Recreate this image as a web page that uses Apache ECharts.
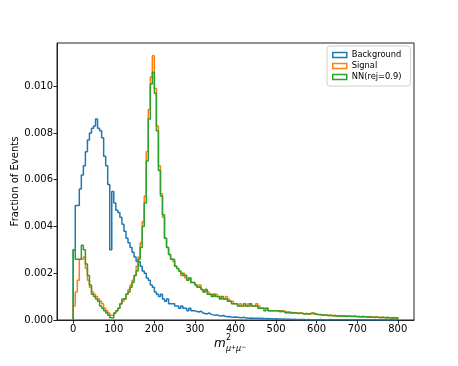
<!DOCTYPE html>
<html>
<head>
<meta charset="UTF-8">
<title>m2 histogram</title>
<script src="https://cdn.jsdelivr.net/npm/echarts@6/dist/echarts.min.js"></script>
<style>
  html, body { margin: 0; padding: 0; background: #fff; }
  #main { width: 458px; height: 366px; }
</style>
</head>
<body>
<div id="main"></div>
<script type="text/javascript">
// histogram bins: 0..800, width 5
var binStart = 0;
var binWidth = 5;
var seriesNames = ['Background', 'Signal', 'NN(rej=0.9)'];
var xTicks = [0, 100, 200, 300, 400, 500, 600, 700, 800];
var yTicks = [0, 0.002, 0.004, 0.006, 0.008, 0.010];

var background = [
    0.0030, 0.0049, 0.0049, 0.0056, 0.0062, 0.0066, 0.0072, 0.0077, 0.0080, 0.0082, 0.0083, 0.0086, 0.0082, 0.0081, 0.0078, 0.0070, 0.0066, 0.0058, 0.0030, 0.0055,
    0.0050, 0.0047, 0.0046, 0.0044, 0.0041, 0.0038, 0.0035, 0.0033, 0.0031, 0.0029, 0.0027, 0.0025, 0.0025, 0.0023, 0.0021, 0.0020, 0.0018, 0.0017, 0.0015, 0.0014,
    0.0012, 0.0011, 0.0010, 0.0011, 0.0009, 0.0008, 0.0009, 0.0007, 0.0007, 0.0007, 0.0006, 0.0006, 0.0005, 0.0006, 0.0005, 0.0005, 0.0004, 0.0005, 0.0004, 0.0004,
    0.00036, 0.00034, 0.00038, 0.00030, 0.00028, 0.00026, 0.00030, 0.00024, 0.00022, 0.00020, 0.00022, 0.00018, 0.00017, 0.00019, 0.00016, 0.00014, 0.00015, 0.00013, 0.00012, 0.00013,
    0.00012, 0.00011, 0.00010, 0.00012, 0.00009, 0.00009, 0.00008, 0.00009, 0.00007, 0.00008, 0.00007, 0.00006, 0.00007, 0.00006, 0.00005, 0.00006, 0.00005, 0.00005, 0.00004, 0.00005,
    0.00004, 0.00004, 0.00003, 0.00004, 0.00003, 0.00003, 0.00003, 0.00002, 0.00003, 0.00002, 0.00002, 0.00002, 0.00002, 0.00002, 0.00001, 0.00002, 0.00001, 0.00001, 0.00001, 0.00001,
    0.00001, 0.00002, 0.00001, 0.00001, 0.00001, 0.00001, 0.00002, 0.00001, 0.00001, 0.00001, 0.00001, 0.00001, 0.00001, 0.00001, 0.00001, 0.00001, 0.00001, 0.00001, 0.00001, 0.00001,
    0.00001, 0.00001, 0.00000, 0.00001, 0.00001, 0.00000, 0.00001, 0.00001, 0.00000, 0.00001, 0.00000, 0.00001, 0.00000, 0.00001, 0.00000, 0.00000, 0.00001, 0.00000, 0.00000, 0.00000
];

var signal = [
    0.0006, 0.0012, 0.0017, 0.0026, 0.0026, 0.0027, 0.0022, 0.0017, 0.0014, 0.0012, 0.0011, 0.0010, 0.0009, 0.0008, 0.0007, 0.0005, 0.0004, 0.0003, 0.0002, 0.0002,
    0.0003, 0.0004, 0.0005, 0.0007, 0.0008, 0.0009, 0.0011, 0.0013, 0.0015, 0.0017, 0.0019, 0.0023, 0.0027, 0.0033, 0.0042, 0.0053, 0.0072, 0.0090, 0.0104, 0.0113,
    0.0099, 0.0083, 0.0066, 0.0054, 0.0044, 0.0035, 0.0031, 0.0028, 0.0026, 0.0025, 0.0023, 0.0022, 0.0021, 0.0019, 0.0020, 0.0018, 0.0017, 0.0018, 0.0016, 0.0016,
    0.0015, 0.0014, 0.0015, 0.0013, 0.0012, 0.0013, 0.0012, 0.0011, 0.0011, 0.0010, 0.0011, 0.0010, 0.0010, 0.0009, 0.0009, 0.0010, 0.0009, 0.0008, 0.0008, 0.0007,
    0.0007, 0.0006, 0.0007, 0.0006, 0.0006, 0.0006, 0.0007, 0.0006, 0.0006, 0.0006, 0.0007, 0.0006, 0.0005, 0.0005, 0.0005, 0.0005, 0.0004, 0.0004, 0.0004, 0.0004,
    0.0004, 0.0004, 0.00035, 0.0004, 0.00035, 0.0003, 0.00035, 0.0003, 0.0003, 0.0003, 0.0003, 0.00028, 0.0003, 0.00025, 0.00028, 0.00025, 0.00025, 0.00028, 0.0003, 0.00025,
    0.00025, 0.00022, 0.00022, 0.0002, 0.00022, 0.0002, 0.0002, 0.00018, 0.0002, 0.00017, 0.00018, 0.00017, 0.00016, 0.00018, 0.00016, 0.00017, 0.00015, 0.00016, 0.00017, 0.00015,
    0.00015, 0.00014, 0.00016, 0.00014, 0.00013, 0.00015, 0.00013, 0.00012, 0.00014, 0.00012, 0.00011, 0.00013, 0.00011, 0.0001, 0.00012, 0.0001, 0.0001, 0.00011, 0.0001, 0.0001
];

var nnRej = [
    0.0030, 0.0026, 0.0026, 0.0026, 0.0032, 0.0030, 0.0024, 0.0019, 0.0015, 0.0011, 0.0010, 0.0009, 0.0008, 0.0006, 0.0005, 0.0004, 0.0003, 0.0002, 0.0001, 0.0001,
    0.0003, 0.0004, 0.0005, 0.0007, 0.0009, 0.0009, 0.0011, 0.0012, 0.0014, 0.0016, 0.0019, 0.0021, 0.0026, 0.0031, 0.0040, 0.0050, 0.0068, 0.0086, 0.0101, 0.0106,
    0.0097, 0.0081, 0.0064, 0.0053, 0.0045, 0.0035, 0.0031, 0.0028, 0.0026, 0.0026, 0.0023, 0.0022, 0.0021, 0.0020, 0.0019, 0.0019, 0.0017, 0.0018, 0.0016, 0.0016,
    0.0015, 0.0014, 0.0014, 0.0013, 0.0012, 0.0013, 0.0011, 0.0011, 0.0010, 0.0011, 0.0010, 0.0010, 0.0009, 0.0010, 0.0009, 0.0009, 0.0008, 0.0008, 0.0007, 0.0007,
    0.0007, 0.0006, 0.0006, 0.0006, 0.0007, 0.0006, 0.0006, 0.0007, 0.0006, 0.0006, 0.0006, 0.0005, 0.0005, 0.0005, 0.0004, 0.0005, 0.0004, 0.0004, 0.0004, 0.0004,
    0.0004, 0.00035, 0.0004, 0.00035, 0.0003, 0.00035, 0.0003, 0.0003, 0.00032, 0.0003, 0.00028, 0.0003, 0.00028, 0.00025, 0.00028, 0.00025, 0.00028, 0.0003, 0.00025, 0.00025,
    0.00022, 0.00024, 0.0002, 0.00022, 0.0002, 0.00018, 0.0002, 0.00018, 0.00017, 0.00018, 0.00016, 0.00018, 0.00016, 0.00017, 0.00015, 0.00017, 0.00016, 0.00015, 0.00016, 0.00014,
    0.00015, 0.00013, 0.00015, 0.00013, 0.00014, 0.00012, 0.00013, 0.00012, 0.00011, 0.00013, 0.00011, 0.0001, 0.00012, 0.0001, 0.00011, 0.0001, 0.00009, 0.0001, 0.00009, 0.0001
];

var colors = ['#1f77b4', '#ff7f0e', '#2ca02c'];
var font = 'DejaVu Sans';

// outline of a step histogram, like histtype='step'
function stepData(vals) {
    var d = [[binStart, 0]];
    for (var i = 0; i < vals.length; i++) {
        d.push([binStart + i * binWidth, vals[i]]);
    }
    var end = binStart + vals.length * binWidth;
    d.push([end, vals[vals.length - 1]]);
    d.push([end, 0]);
    return d;
}

var allVals = [background, signal, nnRej];
var series = [];
for (var s = 0; s < allVals.length; s++) {
    series.push({
        name: seriesNames[s],
        type: 'line',
        step: 'end',
        showSymbol: false,
        data: stepData(allVals[s]),
        lineStyle: { color: colors[s], width: 1.5 },
        itemStyle: { color: colors[s] }
    });
}

var myChart = echarts.init(document.getElementById('main'));
var option = {
    animation: false,
    backgroundColor: '#fff',
    textStyle: { fontFamily: font },
    grid: {
        left: 57, right: 44, top: 43, bottom: 46,
        outerBoundsMode: 'none',
        containLabel: false,
        show: true, borderColor: '#222', borderWidth: 1, backgroundColor: 'transparent'
    },
    legend: {
        orient: 'vertical',
        left: 327, top: 46,
        padding: [5, 9, 5, 5],
        itemGap: 3,
        itemWidth: 14, itemHeight: 5,
        backgroundColor: '#fff',
        borderColor: '#d0d0d0', borderWidth: 1, borderRadius: 3,
        textStyle: { fontFamily: font, fontSize: 8.3, color: '#000' },
        data: seriesNames.map(function (n, i) {
            return { name: n, icon: 'rect', itemStyle: { color: '#fff', borderColor: colors[i], borderWidth: 1.5 } };
        })
    },
    xAxis: {
        type: 'value',
        min: -40, max: 840,
        axisLine: { show: true, onZero: false, lineStyle: { color: '#222', width: 1 } },
        axisTick: { show: true, length: 3.5, customValues: xTicks, lineStyle: { color: '#222' } },
        axisLabel: { customValues: xTicks, color: '#000', fontSize: 10, fontFamily: font, margin: 4 },
        splitLine: { show: false }
    },
    yAxis: {
        type: 'value',
        min: 0, max: 0.01185,
        name: 'Fraction of Events',
        nameLocation: 'middle',
        nameGap: 37,
        nameMoveOverlap: false,
        nameTextStyle: { color: '#000', fontSize: 10, fontFamily: font },
        axisLine: { show: true, onZero: false, lineStyle: { color: '#222', width: 1 } },
        axisTick: { show: true, length: 3.5, customValues: yTicks, lineStyle: { color: '#222' } },
        axisLabel: {
            customValues: yTicks, color: '#000', fontSize: 10, fontFamily: font, margin: 4,
            formatter: function (v) { return v.toFixed(3); }
        },
        splitLine: { show: false }
    },
    graphic: [
        { type: 'text', left: 214, top: 338, style: { text: 'm', font: 'italic 12px "DejaVu Sans"', fill: '#000' } },
        { type: 'text', left: 226, top: 334, style: { text: '2', font: '8px "DejaVu Sans"', fill: '#000' } },
        {
            type: 'text', left: 226, top: 344,
            style: {
                text: '{a|μ}{b|+}{a|μ}{b|−}',
                rich: {
                    a: { fontFamily: font, fontStyle: 'italic', fontSize: 8, fill: '#000', lineHeight: 10 },
                    b: { fontFamily: font, fontSize: 6, fill: '#000', verticalAlign: 'top', lineHeight: 6 }
                }
            }
        }
    ],
    series: series
};
myChart.setOption(option);
</script>
</body>
</html>
